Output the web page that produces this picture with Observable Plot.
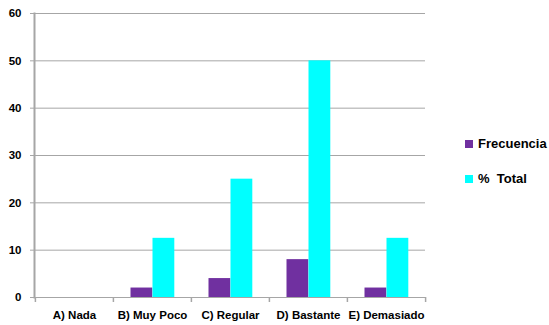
<!DOCTYPE html>
<html><head><meta charset="utf-8">
<script src="https://cdn.jsdelivr.net/npm/d3@7"></script>
<script src="https://cdn.jsdelivr.net/npm/@observablehq/plot@0.6"></script>
<style>
body{margin:0;background:#fff;}
#wrap{position:relative;width:549px;height:325px;font-family:"Liberation Sans",Arial,sans-serif;}
.leg{position:absolute;left:465px;font-weight:bold;font-size:13px;white-space:pre;display:flex;align-items:center;color:#000;}
.sw{width:8px;height:8px;margin-right:5px;}
</style></head>
<body><div id="wrap"></div>
<script>
const categories = ["A) Nada","B) Muy Poco","C) Regular","D) Bastante","E) Demasiado"];
const frecuencia = [0, 2, 4, 8, 2];
const porcentaje = [0, 12.5, 25, 50, 12.5];
const seriesNames = ["Frecuencia", "%  Total"];
const colors = ["#7030A0", "#00FFFF"];
const yTicks = [0,10,20,30,40,50,60];

const rows = categories.map((c,i)=>({cat:c, frec:frecuencia[i], pct:porcentaje[i]}));
const W=549, H=325, mL=34, mR=124, mT=13, mB=28;
const step=(W-mL-mR)/categories.length;

const plot = Plot.plot({
  width:W, height:H, marginLeft:mL, marginRight:mR, marginTop:mT, marginBottom:mB,
  style:{fontFamily:"'Liberation Sans', Arial, sans-serif", fontSize:"11px", fontWeight:"bold", color:"#000", background:"#fff"},
  x:{domain:categories, padding:0, axis:null, label:null},
  y:{domain:[0,60], axis:null, label:null},
  marks:[
    Plot.gridY(yTicks,{stroke:"#a6a6a6", strokeOpacity:1}),
    Plot.barY(rows,{x:"cat", y:"frec", fill:colors[0], insetLeft:17.5, insetRight:step-39.5}),
    Plot.barY(rows,{x:"cat", y:"pct", fill:colors[1], insetLeft:39.5, insetRight:step-61.5}),
    Plot.axisY(yTicks,{tickSize:4, tickPadding:9, stroke:"#a6a6a6", fontSize:11.5, fontWeight:"bold", label:null}),
    Plot.axisX({tickSize:0, tickPadding:13, fontSize:11.5, fontWeight:"bold", label:null}),
    Plot.axisX({ticks:categories, tickSize:5, tickFormat:()=>"", dx:-step/2, stroke:"#a6a6a6", strokeWidth:1.5, label:null}),
    Plot.axisX({ticks:[categories[categories.length-1]], tickSize:5, tickFormat:()=>"", dx:step/2, stroke:"#a6a6a6", strokeWidth:1.5, label:null}),
    Plot.frame({anchor:"left", stroke:"#a6a6a6", strokeWidth:2})
  ]
});
const wrap=document.getElementById("wrap");
wrap.appendChild(plot);
const tops=[136,171];
seriesNames.forEach((n,i)=>{
  const d=document.createElement("div");
  d.className="leg"; d.style.top=tops[i]+"px";
  d.innerHTML=`<span class="sw" style="background:${colors[i]}"></span>${n}`;
  wrap.appendChild(d);
});
</script></body></html>
